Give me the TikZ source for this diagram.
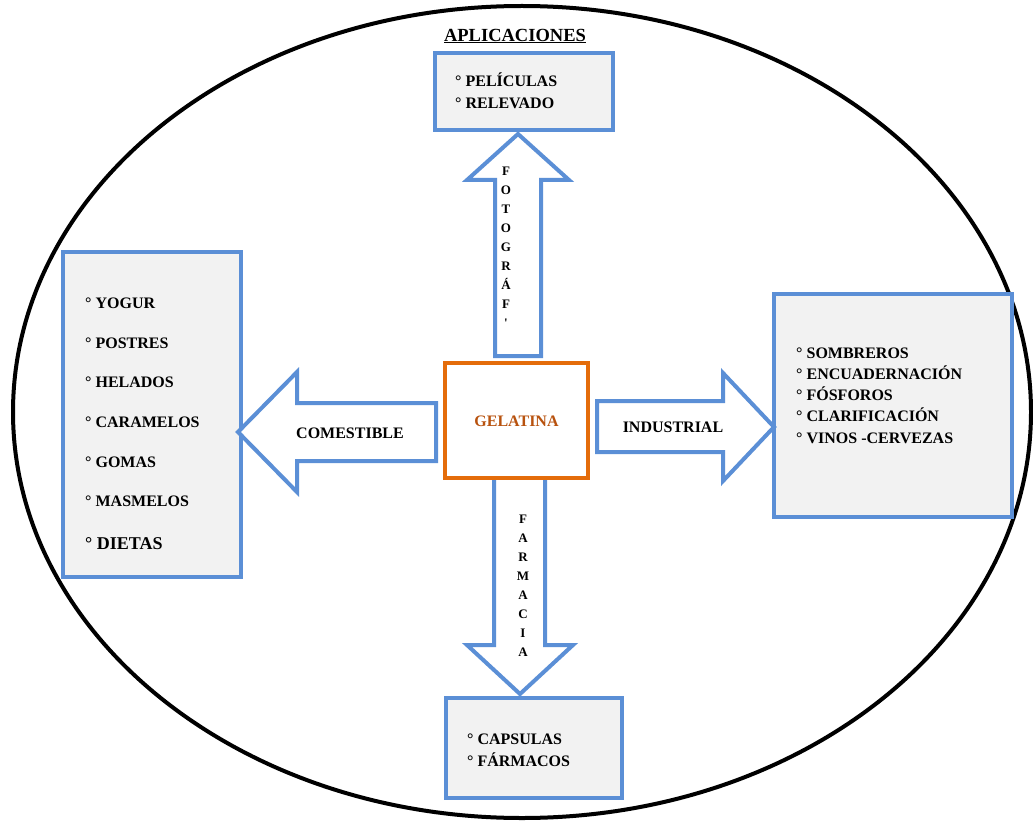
\documentclass[tikz,border=0pt]{standalone}
\usepackage{fontspec}
\setmainfont{Liberation Serif}
\newfontfamily\plainserif{Liberation Serif}
\definecolor{bblue}{HTML}{5B8FD6}
\definecolor{borange}{HTML}{E46C0A}
\definecolor{btext}{HTML}{B8520E}
\definecolor{bgray}{HTML}{F2F2F2}
\tikzset{
  listbox/.style={draw=bblue, line width=4pt, fill=bgray},
  blockarrow/.style={draw=bblue, line width=4pt, fill=white, line join=miter},
  item/.style={anchor=base west, inner sep=0pt, font=\fontsize{16}{19}\selectfont\bfseries},
  lbl/.style={inner sep=0pt, font=\fontsize{16}{19}\selectfont\bfseries},
  vlbl/.style={inner sep=0pt, align=center, font=\fontsize{13}{19}\selectfont\bfseries}
}
\begin{document}
\begin{tikzpicture}[x=1pt,y=-1pt]
\useasboundingbox (0,0) rectangle (1033,821);
% ellipse
\draw[line width=4pt] (522,412) ellipse [x radius=509, y radius=406];
% title
\node[lbl, font=\fontsize{18.5}{20}\selectfont\bfseries] (title) at (515,36) {\underline{APLICACIONES}};
% boxes
\draw[listbox] (435,53) rectangle (613,130);
\draw[listbox] (63,252) rectangle (241,577);
\draw[listbox] (774,294) rectangle (1012,517);
\draw[listbox] (446,698) rectangle (622,798);
% center
\draw[draw=borange, line width=4pt, fill=white] (445,363) rectangle (588,478);
\node[lbl, text=btext] (gel) at (516.5,421) {GELATINA};
% up arrow
\draw[blockarrow] (495,356) -- (495,180) -- (467,180) -- (518,134) -- (569,180) -- (541,180) -- (541,356) -- cycle;
\node[vlbl, anchor=north] (foto) at (506,167) {F\\O\\T\\O\\G\\R\\Á\\F\\{\plainserif\bfseries '}};
% down arrow
\draw[blockarrow] (494,480) -- (494,645) -- (467,645) -- (520,694) -- (573,645) -- (545,645) -- (545,480);
\node[vlbl, anchor=north] (farm) at (523,515) {F\\A\\R\\M\\A\\C\\I\\A};
% left arrow
\draw[blockarrow] (436,403) -- (297,403) -- (297,372) -- (238,432) -- (297,492) -- (297,461) -- (436,461) -- cycle;
\node[lbl] (com) at (350,433) {COMESTIBLE};
% right arrow
\draw[blockarrow] (597,401) -- (723,401) -- (723,373) -- (774,427) -- (723,481) -- (723,452) -- (597,452) -- cycle;
\node[lbl] (ind) at (673,427) {INDUSTRIAL};
% top list
\node[item] (t1) at (455,87) {° PELÍCULAS};
\node[item] (t2) at (455,109) {° RELEVADO};
% left list
\node[item] (l1) at (85,308) {° YOGUR};
\node[item] (l2) at (85,348) {° POSTRES};
\node[item] (l3) at (85,387) {° HELADOS};
\node[item] (l4) at (85,427) {° CARAMELOS};
\node[item] (l5) at (85,467) {° GOMAS};
\node[item] (l6) at (85,506) {° MASMELOS};
\node[item, font=\fontsize{18}{20}\selectfont\bfseries] (l7) at (85,549) {° DIETAS};
% right list
\node[item] (r1) at (796,358) {° SOMBREROS};
\node[item] (r2) at (796,379) {° ENCUADERNACIÓN};
\node[item] (r3) at (796,400) {° FÓSFOROS};
\node[item] (r4) at (796,421) {° CLARIFICACIÓN};
\node[item] (r5) at (796,443) {° VINOS -CERVEZAS};
% bottom list
\node[item] (b1) at (467,744) {° CAPSULAS};
\node[item] (b2) at (467,766) {° FÁRMACOS};
\end{tikzpicture}
\end{document}
